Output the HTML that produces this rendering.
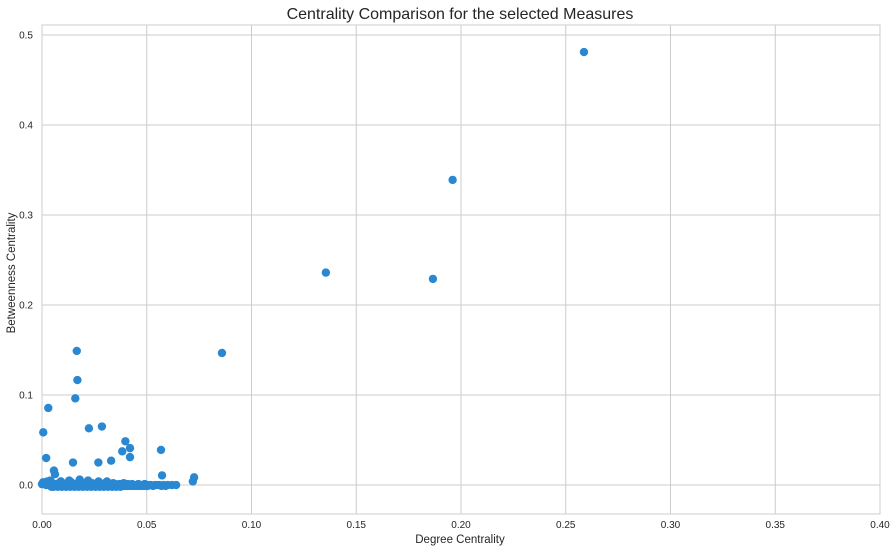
<!DOCTYPE html>
<html><head><meta charset="utf-8"><style>
body{margin:0;background:#fff;font-family:"Liberation Sans",sans-serif;}
svg text{font-family:"Liberation Sans",sans-serif;fill:#262626;}
</style></head><body>
<svg id="c" width="896" height="551">
<text x="460" y="19" text-anchor="middle" font-size="16">Centrality Comparison for the selected Measures</text>
<text x="460" y="543" text-anchor="middle" font-size="11.5">Degree Centrality</text>
<text x="15" y="273" text-anchor="middle" font-size="11.5" transform="rotate(-90 15 273)">Betweenness Centrality</text>
<g id="grid"></g><g id="pts"></g>
</svg>
<script>
const xTicks=[0,0.05,0.10,0.15,0.20,0.25,0.30,0.35,0.40];
const xTickLabels=["0.00","0.05","0.10","0.15","0.20","0.25","0.30","0.35","0.40"];
const yTicks=[0,0.1,0.2,0.3,0.4,0.5];
const yTickLabels=["0.0","0.1","0.2","0.3","0.4","0.5"];
const degree=[0.2587,0.196,0.1355,0.1866,0.0859,0.0166,0.0169,0.0159,0.003,0.0006,0.002,0.0224,0.0286,0.0398,0.042,0.0383,0.042,0.0148,0.0269,0.033,0.0568,0.0573,0.0057,0.0062,0.0726,0.072,
0.000,0.001,0.002,0.003,0.004,0.005,0.006,0.007,0.008,0.009,0.010,0.011,0.012,0.013,0.014,0.015,0.016,0.017,0.018,0.019,0.020,0.021,0.022,0.023,0.024,0.025,0.026,0.027,0.028,0.029,0.030,0.031,0.032,0.033,0.034,0.035,0.036,0.037,0.038,0.039,0.040,0.041,0.042,0.043,0.044,0.045,0.046,0.047,0.048,0.049,0.050,0.051,0.052,0.054,0.055,0.056,0.058,0.060,0.062,0.064,0.008,0.027,0.034,0.038,0.013,0.018,0.022,0.004,0.031,0.009,
0.0005,0.0015,0.0025,0.0035,0.0045,0.0055,0.0065,0.0075,0.0085,0.0095,0.0105,0.0115,0.0125,0.0135,0.0145,0.0155,0.0165,0.0175,0.0185,0.0195,0.0205,0.0215,0.0225,0.0235,0.0245,0.0255,0.0265,0.0275,0.0285,0.0295,0.0305,0.0315,0.0325,0.0335,0.0345,0.0355,0.0365,0.0375,0.0385,0.0395,0.0405,0.0415,0.0425,0.0435,0.0445,0.0455,0.0465,0.0475,0.0485,0.0495,0.0505,0.053,0.057,0.059];
const betweenness=[0.481,0.339,0.236,0.229,0.1467,0.149,0.1166,0.0963,0.0856,0.0585,0.030,0.063,0.065,0.0486,0.041,0.0374,0.031,0.025,0.025,0.027,0.039,0.0107,0.016,0.012,0.0085,0.004,
0.001,0.002,0.000,0.003,0.001,0.002,0.000,0.001,0.002,0.004,0.001,0.000,0.002,0.001,0.003,0.000,0.001,0.002,0.001,0.000,0.002,0.001,0.000,0.001,0.002,0.000,0.001,0.004,0.000,0.001,0.002,0.000,0.001,0.000,0.002,0.001,0.000,0.001,0.000,0.002,0.000,0.001,0.000,0.001,0.000,0.000,0.001,0.000,0.000,0.001,0.000,0.000,0.000,0.000,0.000,0.000,0.000,0.000,0.000,0.000,0.001,0.000,0.000,0.000,0.005,0.006,0.005,0.005,0.004,0.004,0.003,0.003,0.004,0.004,
-0.002,-0.002,-0.001,-0.002,-0.001,-0.002,-0.001,-0.002,-0.001,-0.002,-0.001,-0.002,-0.001,-0.002,-0.001,-0.002,-0.001,-0.002,-0.001,-0.002,-0.001,-0.002,-0.001,-0.002,-0.001,-0.002,-0.001,-0.002,-0.001,-0.002,-0.001,-0.002,-0.001,-0.002,-0.001,-0.001,-0.001,-0.001,-0.001,-0.001,-0.001,-0.001,-0.001,-0.001,-0.001,-0.001,-0.001,-0.001,-0.001,-0.001,-0.001,0.000,0.000,0.000];
const L=42,R=880,T=25,B=514,xMin=0,xMax=0.4,yMin=-0.0322,yMax=0.5111;
const sx=v=>L+(v-xMin)/(xMax-xMin)*(R-L);
const sy=v=>B-(v-yMin)/(yMax-yMin)*(B-T);
const NS="http://www.w3.org/2000/svg";
const g=document.getElementById('grid'),p=document.getElementById('pts');
function mk(t,a,parent){const e=document.createElementNS(NS,t);for(const k in a)e.setAttribute(k,a[k]);parent.appendChild(e);return e;}
const bg=mk('rect',{x:L,y:T,width:R-L,height:B-T,fill:'#fff',stroke:'#cccccc','stroke-width':1},g);


xTicks.forEach((v,i)=>{
 const l=mk('line',{x1:sx(v),x2:sx(v),y1:T,y2:B,stroke:'#cccccc','stroke-width':1},g);
 
 
 const t=mk('text',{x:sx(v),y:B+14,'text-anchor':'middle','font-size':10},g);t.textContent=xTickLabels[i];
 
 
});
yTicks.forEach((v,i)=>{
 const l=mk('line',{x1:L,x2:R,y1:sy(v),y2:sy(v),stroke:'#cccccc','stroke-width':1},g);
 
 
 const t=mk('text',{x:L-9,y:sy(v)+3.5,'text-anchor':'end','font-size':10},g);t.textContent=yTickLabels[i];
 
 
});
degree.forEach((d,i)=>{
 const c=mk('circle',{cx:sx(d),cy:sy(betweenness[i]),r:4.2,fill:'#2a88d3'},p);
 
 
});
</script>
</body></html>
